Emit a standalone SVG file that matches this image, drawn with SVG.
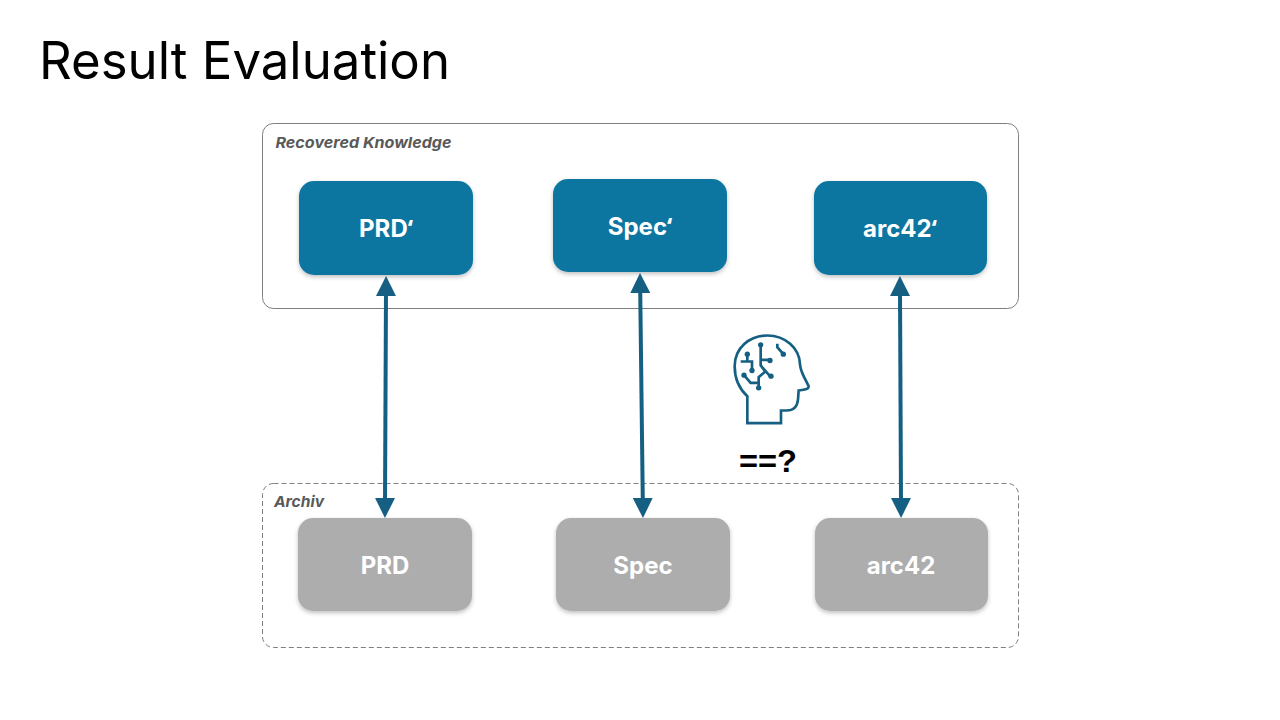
<svg xmlns="http://www.w3.org/2000/svg" width="1280" height="720" viewBox="0 0 1280 720">
<style>
.title{font:400 52px "Inter","Liberation Sans",sans-serif;fill:#000}
.cap{font:italic 700 15px "Inter","Liberation Sans",sans-serif;fill:#595959}
.lbl{font:700 24px "Inter","Noto Sans",sans-serif;fill:#fff;text-anchor:middle}
.q{font-family:"Noto Sans",sans-serif}
.blue{fill:#0b76a0;filter:url(#sh)}
.grey{fill:#adadad;filter:url(#sh)}
.conn{stroke:#156082;stroke-width:4;fill:none;marker-start:url(#ah);marker-end:url(#ah)}
.ic{fill:none;stroke:#156082;stroke-width:8}
.dot{fill:#156082}
</style>
<defs>
<filter id="sh" x="-10%" y="-10%" width="120%" height="125%"><feDropShadow dx="0" dy="2" stdDeviation="2" flood-color="#000" flood-opacity="0.25"/></filter>
<marker id="ah" viewBox="0 0 20 20" refX="4" refY="10" markerUnits="userSpaceOnUse" markerWidth="20" markerHeight="20" orient="auto-start-reverse"><path d="M0 0L20 10L0 20Z" fill="#156082"/></marker>
</defs>
<rect width="1280" height="720" fill="#fff"/>
<text class="title" x="39" y="79" textLength="411" lengthAdjust="spacingAndGlyphs">Result Evaluation</text>
<g id="recovered"><rect x="262.500" y="123.500" width="756" height="185" rx="11" fill="#fff" stroke="#7f7f7f"/><text class="cap" x="275.500" y="147.500" textLength="176" lengthAdjust="spacingAndGlyphs">Recovered Knowledge</text></g>
<g id="archiv"><rect x="262.500" y="483.500" width="756" height="164" rx="11" fill="#fff" stroke="#7f7f7f" stroke-dasharray="5 3"/><text class="cap" x="274" y="506.500" textLength="50" lengthAdjust="spacingAndGlyphs">Archiv</text></g>
<g id="prd-prime"><rect class="blue" x="299" y="181" width="174" height="94" rx="15"/><text class="lbl" x="386" y="237">PRD<tspan class="q">‘</tspan></text></g>
<g id="spec-prime"><rect class="blue" x="553" y="179" width="174" height="93" rx="15"/><text class="lbl" x="640" y="235">Spec<tspan class="q">‘</tspan></text></g>
<g id="arc42-prime"><rect class="blue" x="814" y="181" width="173" height="94" rx="15"/><text class="lbl" x="900" y="237">arc42<tspan class="q">‘</tspan></text></g>
<g id="prd"><rect class="grey" x="298" y="518" width="174" height="93" rx="15"/><text class="lbl" x="385" y="574">PRD</text></g>
<g id="spec"><rect class="grey" x="556" y="518" width="174" height="93" rx="15"/><text class="lbl" x="643" y="574">Spec</text></g>
<g id="arc42"><rect class="grey" x="815" y="518" width="173" height="93" rx="15"/><text class="lbl" x="901" y="574">arc42</text></g>
<g id="connectors">
<line class="conn" x1="386" y1="292" x2="385" y2="502"/>
<line class="conn" x1="640.200" y1="289" x2="642.800" y2="502"/>
<line class="conn" x1="900" y1="292" x2="901" y2="502"/>
</g>
<g id="ai-head" transform="translate(720 325.500) scale(.3333)">
<path class="ic" d="M82 293V212C58 190 44 158 44 122C44 68 88 30 142 30C196 30 238 68 240 116C241 130 246 142 252 154L266 182C267 190 258 193 236 195L234 222C232 244 220 255 200 255H183V293Z"/>
<path class="ic" d="M82 86V108H62M82 108H96V135M122 58V120L150 152M122 103H150M122 120L136 138L116 155V187M72 149L92 172H116M172 55V65L190 86"/>
<circle class="dot" cx="82" cy="86" r="8"/><circle class="dot" cx="96" cy="135" r="8"/><circle class="dot" cx="122" cy="58" r="8"/><circle class="dot" cx="150" cy="105" r="8"/><circle class="dot" cx="153" cy="152" r="8"/><circle class="dot" cx="72" cy="149" r="8"/><circle class="dot" cx="116" cy="187" r="8"/><circle class="dot" cx="190" cy="86" r="8"/>
</g>
<text id="eq" x="739" y="472" font-family="'Liberation Sans',sans-serif" font-weight="700" font-size="32" textLength="58" lengthAdjust="spacingAndGlyphs">==?</text>
</svg>
